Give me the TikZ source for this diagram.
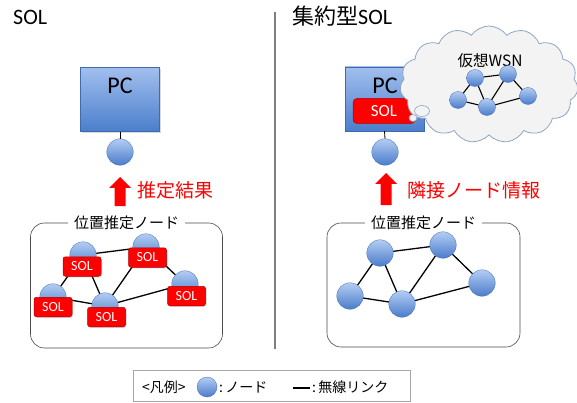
\documentclass[tikz,border=0pt]{standalone}
\usepackage{fontspec}
\setmainfont{Carlito}
\newfontfamily\jp{Noto Sans CJK JP}
\usetikzlibrary{shapes.symbols,shapes.geometric,shadows}
\definecolor{boxtop}{HTML}{A2BFEE}
\definecolor{boxbot}{HTML}{4A7ECC}
\definecolor{nodetop}{HTML}{B3CDF3}
\definecolor{nodebot}{HTML}{4A7CCB}
\definecolor{solred}{HTML}{FF0000}
\definecolor{solborder}{HTML}{B00000}
\definecolor{framecol}{HTML}{4A4A4A}
\definecolor{cloudfill}{HTML}{F3F3F3}
\definecolor{cloudline}{HTML}{8FA5C6}
\definecolor{divcol}{HTML}{7F7F7F}
\begin{document}
\begin{tikzpicture}[x=1pt,y=-1pt,
  pcbox/.style={draw=boxbot!85!black, line width=0.4pt, top color=boxtop, bottom color=boxbot,
    minimum width=79pt, minimum height=64pt, inner sep=0pt,
    drop shadow={shadow xshift=1.2pt, shadow yshift=-1.2pt, opacity=0.3}},
  pctext/.style={font=\fontsize{24}{26}\selectfont, text=black, inner sep=0pt},
  wnode/.style={circle, draw=nodebot!85!black, line width=0.3pt, top color=nodetop, bottom color=nodebot,
    minimum size=26.5pt, inner sep=0pt},
  snode/.style={wnode, minimum size=17pt},
  solbox/.style={rectangle, rounded corners=2.5pt, fill=solred, draw=solborder, line width=0.5pt,
    text=white, font=\fontsize{14}{16}\selectfont, minimum width=38pt, minimum height=19.5pt, inner sep=0pt,
    drop shadow={shadow xshift=1pt, shadow yshift=-1pt, opacity=0.35}},
  link/.style={draw=black, line width=1.3pt},
  framebox/.style={rectangle, rounded corners=14pt, draw=framecol, line width=0.6pt, inner sep=0pt,
    minimum width=192pt, minimum height=125pt},
  framelabel/.style={fill=white, inner xsep=6pt, inner ysep=1pt, font=\jp\fontsize{15}{17}\selectfont},
  redtext/.style={text=solred, font=\jp\fontsize{19}{21}\selectfont, inner sep=0pt},
  redarrow/.style={fill=solred, draw=none},
  titletext/.style={font=\fontsize{22}{24}\selectfont, inner sep=0pt},
  legtext/.style={font=\jp\fontsize{14}{16}\selectfont, inner sep=0pt}
]
\useasboundingbox (0,0) rectangle (577,403);

% titles
\node[titletext, anchor=base west] (tL) at (13,24.5) {SOL};
\node[titletext, anchor=base west] (tR) at (292,24.5) {{\jp 集約型}SOL};

% divider
\coordinate (d1) at (275,12);
\coordinate (d2) at (275,349);
\draw[divcol, line width=1.3pt] (d1) -- (d2);

% ---------- left side ----------
\node[pcbox] (pcL) at (120,99.5) {};
\node[pctext] (pcLt) at (120,86) {PC};
\node[wnode] (cL) at (120,152) {};
\draw[line width=0.8pt] (pcL.south) -- (cL.north);

\fill[redarrow] (109,188) -- (120,177) -- (131,188) -- (125.5,188) -- (125.5,206) -- (114.5,206) -- (114.5,188) -- cycle;
\node[redtext, anchor=west] (rL) at (137,190) {推定結果};

\node[framebox] (fL) at (126.5,285.5) {};
\node[framelabel] (fLl) at (fL.north) {位置推定ノード};

\node[wnode] (lA) at (83,255) {};
\node[wnode] (lB) at (146,247) {};
\node[wnode] (lC) at (185,284) {};
\node[wnode] (lD) at (53,297) {};
\node[wnode] (lE) at (105,306) {};
\draw[link] (lA) -- (lB);
\draw[link] (lA) -- (lD);
\draw[link] (lA) -- (lE);
\draw[link] (lB) -- (lE);
\draw[link] (lB) -- (lC);
\draw[link] (lD) -- (lE);
\draw[link] (lE) -- (lC);
\node[solbox] (sA) at (82,266.5) {SOL};
\node[solbox] (sB) at (147.5,257.5) {SOL};
\node[solbox] (sC) at (186.5,296) {SOL};
\node[solbox] (sD) at (53,307) {SOL};
\node[solbox] (sE) at (106.5,317) {SOL};

% ---------- right side ----------
\node[pcbox] (pcR) at (384.5,99) {};
\node[pctext] (pcRt) at (385,85.5) {PC};
\node[solbox, minimum width=62pt, minimum height=25pt, rounded corners=4pt, font=\fontsize{17}{19}\selectfont] (sR) at (384,111) {SOL};
\node[wnode] (cR) at (385,152) {};
\draw[line width=0.8pt] (pcR.south) -- (cR.north);

\node[cloud, cloud puffs=15, cloud puff arc=110, cloud ignores aspect, draw=cloudline, line width=0.8pt,
  fill=cloudfill, minimum width=178pt, minimum height=117pt, inner sep=0pt] (cloud) at (489,84.5) {};
\node[ellipse, draw=cloudline, line width=0.6pt, fill=cloudfill, minimum width=15pt, minimum height=11pt, inner sep=0pt] (b1) at (422,111) {};
\node[ellipse, draw=cloudline, line width=0.6pt, fill=cloudfill, minimum width=8pt, minimum height=7pt, inner sep=0pt] (b2) at (413,118) {};
\node[font=\jp\fontsize{15.5}{17}\selectfont, inner sep=0pt] (wsn) at (490,61) {仮想WSN};

\node[snode] (v1) at (475,78) {};
\node[snode] (v2) at (508,74) {};
\node[snode] (v3) at (458,100) {};
\node[snode] (v4) at (487,107) {};
\node[snode] (v5) at (528,96) {};
\draw[link, line width=1.1pt] (v1) -- (v2);
\draw[link, line width=1.1pt] (v1) -- (v3);
\draw[link, line width=1.1pt] (v1) -- (v4);
\draw[link, line width=1.1pt] (v2) -- (v4);
\draw[link, line width=1.1pt] (v2) -- (v5);
\draw[link, line width=1.1pt] (v3) -- (v4);
\draw[link, line width=1.1pt] (v4) -- (v5);

\fill[redarrow] (375,184) -- (386,173) -- (397,184) -- (391.5,184) -- (391.5,205) -- (380.5,205) -- (380.5,184) -- cycle;
\node[redtext, anchor=west] (rR) at (407,190) {隣接ノード情報};

\node[framebox, minimum width=193pt, minimum height=124pt] (fR) at (423.5,285) {};
\node[framelabel] (fRl) at (fR.north) {位置推定ノード};

\node[wnode] (rA) at (380,253) {};
\node[wnode] (rB) at (443,245) {};
\node[wnode] (rC) at (482,283) {};
\node[wnode] (rD) at (350,296) {};
\node[wnode] (rE) at (402,304) {};
\draw[link] (rA) -- (rB);
\draw[link] (rA) -- (rD);
\draw[link] (rA) -- (rE);
\draw[link] (rB) -- (rE);
\draw[link] (rB) -- (rC);
\draw[link] (rD) -- (rE);
\draw[link] (rE) -- (rC);

% ---------- legend ----------
\node[rectangle, draw=gray!70, line width=0.6pt, minimum width=277pt, minimum height=31pt, inner sep=0pt] (leg) at (271.5,386) {};
\node[legtext, anchor=west] (lg1) at (142,387) {<凡例>};
\node[wnode, minimum size=20pt] (lgc) at (207,387) {};
\node[legtext, anchor=west] (lg2) at (219,387) {:\,ノード};
\coordinate (lgl1) at (293,388);
\coordinate (lgl2) at (310,388);
\draw[line width=1.4pt] (lgl1) -- (lgl2);
\node[legtext, anchor=west] (lg3) at (312,387) {:\,無線リンク};
\end{tikzpicture}
\end{document}
